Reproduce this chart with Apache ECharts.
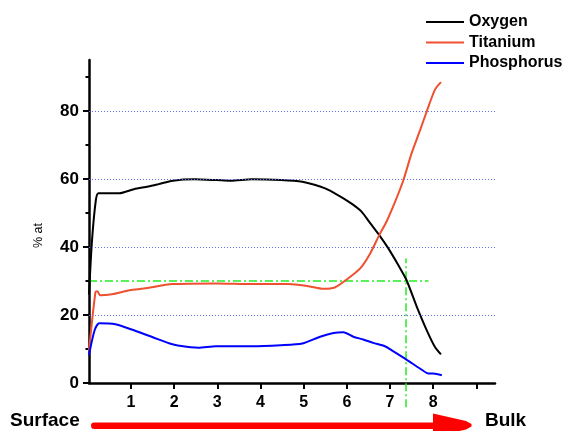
<!DOCTYPE html>
<html>
<head>
<meta charset="utf-8">
<script src="https://cdn.jsdelivr.net/npm/echarts@6/dist/echarts.min.js"></script>
<style>
  html, body { margin: 0; padding: 0; background: #fff; }
  #chart { width: 566px; height: 431px; }
</style>
</head>
<body>
<div id="chart"></div>
<script>
// depth profile, % at vs. sputter depth
const elementNames = ['Oxygen', 'Titanium', 'Phosphorus'];
const elementColors = ['#000000', '#ee5030', '#0000ff'];

const oxygenData = [
  [0.03, 26], [0.1, 42], [0.19, 53.9], [0.25, 55.8], [0.5, 55.8], [0.73, 55.8],
  [1.07, 57], [1.4, 57.8], [1.64, 58.5], [1.97, 59.5], [2.47, 59.9], [2.97, 59.7],
  [3.31, 59.5], [3.8, 59.9], [4.47, 59.7], [4.97, 59.2], [5.38, 57.8], [5.61, 56.6],
  [5.92, 54.3], [6.15, 52.4], [6.34, 50.4], [6.54, 47], [6.75, 43.5], [6.96, 39.6],
  [7.19, 34.7], [7.38, 30.3], [7.62, 22.4], [7.85, 15.5], [8.04, 10.6], [8.18, 8.4]
];
const titaniumData = [
  [0.03, 9.6], [0.18, 26.8], [0.22, 27], [0.29, 25.8], [0.56, 26.1], [0.97, 27.3],
  [1.3, 27.8], [1.97, 29.1], [2.97, 29.3], [3.8, 29.1], [4.64, 29.1], [5.05, 28.6],
  [5.47, 27.7], [5.72, 28.1], [5.96, 30.1], [6.31, 33.7], [6.54, 38.1], [6.75, 43.5],
  [6.92, 47.5], [7.12, 53.4], [7.31, 59.7], [7.5, 67.6], [7.7, 74.5], [7.85, 79.9],
  [8.04, 86.3], [8.18, 88.5]
];
const phosphorusData = [
  [0.03, 8.2], [0.16, 15.5], [0.27, 17.6], [0.64, 17.3], [1.07, 15.5], [1.48, 13.6],
  [1.9, 11.6], [2.06, 11.1], [2.56, 10.4], [2.97, 10.8], [3.8, 10.8], [4.47, 11.1],
  [4.97, 11.6], [5.38, 13.6], [5.69, 14.7], [5.92, 14.9], [6.15, 13.6], [6.38, 12.8],
  [6.61, 11.8], [6.88, 10.8], [7.04, 9.6], [7.38, 6.9], [7.7, 4.2], [7.89, 2.8],
  [8.0, 2.8], [8.2, 2.3]
];

const xTicks = [1, 2, 3, 4, 5, 6, 7, 8, 9];
const xLabels = [1, 2, 3, 4, 5, 6, 7, 8];
const yMajor = [0, 20, 40, 60, 80];
const yMinor = [10, 30, 50, 70, 90];
const gridLevels = [20, 40, 60, 80];

// green guide lines
const guideLevel = 30;        // % at
const guideLevelEnd = 7.89;   // depth where horizontal guide stops
const guideDepth = 7.37;      // depth of vertical guide
const guideDepthRange = [-7.1, 36.6];

const FONT = '"Liberation Sans", Arial, sans-serif';

const chart = echarts.init(document.getElementById('chart'));

const lineSeries = elementNames.map((name, i) => ({
  name: name,
  type: 'line',
  data: [oxygenData, titaniumData, phosphorusData][i],
  symbol: 'none',
  smooth: 0.25,
  lineStyle: { color: elementColors[i], width: 2 },
  itemStyle: { color: elementColors[i] },
  z: 3
}));

// dotted grid lines through markLine
lineSeries[2].markLine = {
  silent: true,
  symbol: 'none',
  label: { show: false },
  lineStyle: { color: '#5f6cf0', width: 1, type: [1, 2] },
  data: gridLevels.map(v => ({ yAxis: v }))
};

const dashDot = [8, 3, 2, 3];

const option = {
  animation: false,
  textStyle: { fontFamily: FONT },
  grid: { left: 89, top: 60, right: 71, bottom: 48 },
  legend: {
    data: elementNames,
    orient: 'vertical',
    left: 426,
    top: 14,
    padding: 0,
    icon: 'rect',
    itemWidth: 38,
    itemHeight: 2,
    itemGap: 4.5,
    textStyle: { fontFamily: FONT, fontSize: 16, fontWeight: 'bold', color: '#000', lineHeight: 16 }
  },
  xAxis: {
    type: 'value',
    min: 0.03,
    max: 9.43,
    axisLine: { show: true, onZero: false, lineStyle: { color: '#000', width: 2.5 } },
    axisTick: { show: true, customValues: xTicks, length: 6, lineStyle: { color: '#000', width: 2 } },
    axisLabel: {
      customValues: xLabels,
      margin: 12,
      color: '#000',
      fontFamily: FONT,
      fontSize: 16,
      fontWeight: 'bold'
    },
    splitLine: { show: false }
  },
  yAxis: [{
    type: 'value',
    min: 0,
    max: 95,
    name: '% at',
    nameLocation: 'middle',
    nameGap: 44,
    nameTextStyle: { color: '#000', fontFamily: FONT, fontSize: 12.5, padding: [0, 28, 0, 0] },
    axisLine: { show: true, onZero: false, lineStyle: { color: '#000', width: 2.5 } },
    axisTick: { show: true, customValues: yMajor, length: 6, lineStyle: { color: '#000', width: 2 } },
    axisLabel: {
      customValues: yMajor,
      margin: 10,
      color: '#000',
      fontFamily: FONT,
      fontSize: 17,
      fontWeight: 'bold'
    },
    splitLine: { show: false }
  }, {
    type: 'value',
    min: 0,
    max: 95,
    position: 'left',
    axisLine: { show: false },
    axisTick: { show: true, customValues: yMinor, length: 3.5, lineStyle: { color: '#000', width: 2 } },
    axisLabel: { show: false },
    splitLine: { show: false }
  }],
  series: lineSeries.concat([
    {
      name: 'guideH',
      type: 'line',
      data: [[0.03, guideLevel], [guideLevelEnd, guideLevel]],
      symbol: 'none',
      silent: true,
      lineStyle: { color: '#22ee22', width: 1.5, type: dashDot },
      z: 2
    },
    {
      name: 'guideV',
      type: 'line',
      clip: false,
      data: [[guideDepth, guideDepthRange[0]], [guideDepth, guideDepthRange[1]]],
      symbol: 'none',
      silent: true,
      lineStyle: { color: '#22ee22', width: 1.5, type: dashDot },
      z: 2
    }
  ]),
  graphic: [
    {
      type: 'text',
      left: 10,
      top: 411,
      style: { text: 'Surface', fill: '#000', font: 'bold 19px ' + FONT }
    },
    {
      type: 'text',
      left: 485,
      top: 411,
      style: { text: 'Bulk', fill: '#000', font: 'bold 19px ' + FONT }
    },
    {
      type: 'rect',
      shape: { x: 91, y: 422.5, width: 346, height: 6.5, r: 3.25 },
      style: { fill: '#ff0000' }
    },
    {
      type: 'polygon',
      shape: { points: [[433, 413.5], [466, 421], [471.5, 424], [471.5, 426.5], [466, 429.5], [433, 437]] },
      style: { fill: '#ff0000' }
    }
  ]
};

chart.setOption(option);
</script>
</body>
</html>
